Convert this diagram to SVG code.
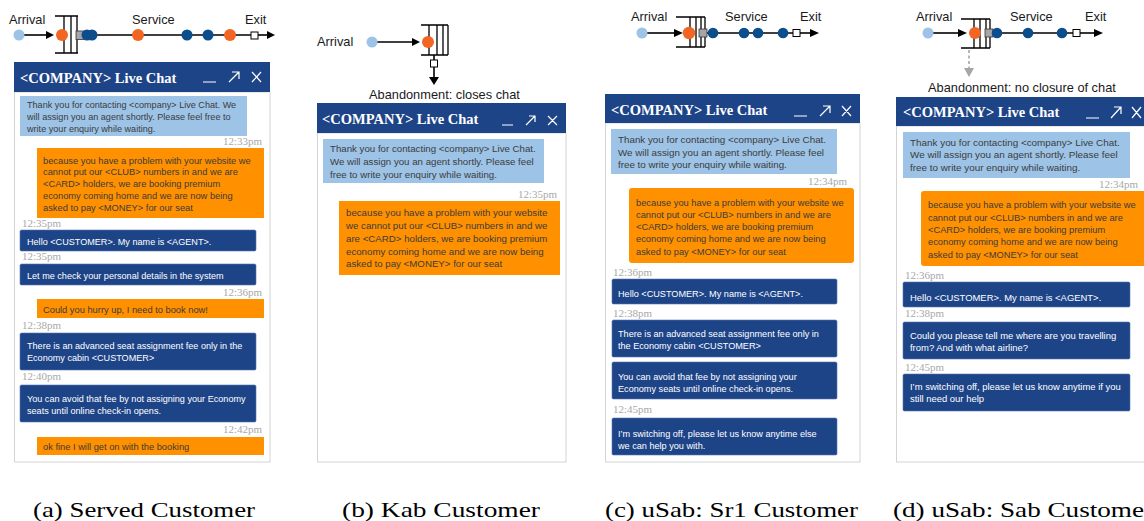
<svg xmlns="http://www.w3.org/2000/svg" width="1144" height="521" viewBox="0 0 1144 521">
<style>
.hdr{fill:#1e4488}
.body{fill:#fff;stroke:#d4d4d4;stroke-width:1}
.lb{fill:#9dc3e6}
.or{fill:#ff9000}
.db{fill:#1e4488;stroke:#5577b0;stroke-width:0.6}
.t{font-family:"Liberation Sans",Arial,sans-serif;fill:#3c3c3c}
.w{fill:#fff}
.ts{font-family:"Liberation Serif","Times New Roman",serif;font-size:11px;fill:#a8a8a8}
.title{font-family:"Liberation Serif","Times New Roman",serif;font-weight:bold;font-size:14.5px;fill:#fff}
.ico{stroke:#fff;stroke-width:1.2;fill:none}
.lbl{font-family:"Liberation Sans",Arial,sans-serif;font-size:12.8px;fill:#1a1a1a}
.cap{font-family:"Liberation Serif","Times New Roman",serif;font-size:22px;fill:#000}
.ln{stroke:#000;stroke-width:1.6;fill:none}
.q{stroke:#000;stroke-width:1.3;fill:none}
.ah{fill:#000}
.od{fill:#f26522}
.dk{fill:#0b4e8b}
.ld{fill:#9dc3e6}
.gs{fill:#a6a6a6;stroke:#333;stroke-width:0.8}
.ws{fill:#fff;stroke:#000;stroke-width:1}
.f91{font-size:9.1px}
.f93{font-size:9.3px}
.f97{font-size:9.7px}
.f98{font-size:9.8px}
.f99{font-size:9.9px}
.f915{font-size:9.15px}
.f945{font-size:9.45px}
</style>

<!-- connectors -->
<g id="connectors">
  <!-- panel a -->
  <line class="ln" x1="24" y1="35" x2="47" y2="35"/>
  <polygon class="ah" points="46,31 54,35 46,39"/>
  <line class="ln" x1="83" y1="35" x2="251" y2="35"/>
  <line class="ln" x1="258" y1="35" x2="268" y2="35"/>
  <polygon class="ah" points="267,31 275,35 267,39"/>
  <!-- panel b -->
  <line class="ln" x1="377" y1="42" x2="413" y2="42"/>
  <polygon class="ah" points="412,38 420,42 412,46"/>
  <line class="ln" x1="434" y1="55" x2="434" y2="60"/>
  <line class="ln" x1="434" y1="67" x2="434" y2="78"/>
  <polygon class="ah" points="429,77 439,77 434,85"/>
  <!-- panel c -->
  <line class="ln" x1="647" y1="33" x2="675" y2="33"/>
  <polygon class="ah" points="674,29 683,33 674,37"/>
  <line class="ln" x1="707" y1="33" x2="793" y2="33"/>
  <line class="ln" x1="800" y1="33" x2="811" y2="33"/>
  <polygon class="ah" points="810,29 819,33 810,37"/>
  <!-- panel d -->
  <line class="ln" x1="933" y1="33" x2="959" y2="33"/>
  <polygon class="ah" points="958,29 967,33 958,37"/>
  <line class="ln" x1="993" y1="33" x2="1073" y2="33"/>
  <line class="ln" x1="1080" y1="33" x2="1095" y2="33"/>
  <polygon class="ah" points="1094,29 1103,33 1094,37"/>
  <line x1="969" y1="50" x2="969" y2="68" stroke="#a6a6a6" stroke-width="1.6" stroke-dasharray="3,2.5"/>
  <polygon fill="#a6a6a6" points="964,68 974,68 969,77"/>
</g>

<!-- panel a flow -->
<g id="flow-a">
  <text class="lbl" x="9" y="24">Arrival</text>
  <text class="lbl" x="132" y="24">Service</text>
  <text class="lbl" x="245" y="24">Exit</text>
  <circle class="ld" cx="19" cy="35" r="5.5"/>
  <path class="q" d="M55,16H78M55,53H78M64,16V53M71,16V53M77,16V53"/>
  <circle class="od" cx="62" cy="35" r="6"/>
  <rect class="gs" x="76" y="31" width="8" height="8.5"/>
  <circle class="dk" cx="87" cy="35" r="5.5"/>
  <circle class="dk" cx="92" cy="35" r="5.5"/>
  <circle class="od" cx="138" cy="35" r="6"/>
  <circle class="dk" cx="187" cy="35" r="5.5"/>
  <circle class="dk" cx="208" cy="35" r="5.5"/>
  <circle class="od" cx="230" cy="35" r="6"/>
  <rect class="ws" x="251" y="32" width="7" height="7"/>
</g>

<!-- panel b flow -->
<g id="flow-b">
  <text class="lbl" x="317" y="46">Arrival</text>
  <circle class="ld" cx="372" cy="42" r="5.5"/>
  <path class="q" d="M421,25H448M421,55H448M429,25V55M437,25V55M443,25V55M448,25V55"/>
  <circle class="od" cx="428" cy="42" r="6"/>
  <rect class="ws" x="430.5" y="60" width="7" height="7"/>
  <text class="lbl" x="369" y="99" font-size="13">Abandonment: closes chat</text>
</g>

<!-- panel c flow -->
<g id="flow-c">
  <text class="lbl" x="631" y="21">Arrival</text>
  <text class="lbl" x="725" y="21">Service</text>
  <text class="lbl" x="800" y="21">Exit</text>
  <circle class="ld" cx="642" cy="33" r="5.5"/>
  <path class="q" d="M676,17H705M676,47H705M690,17V47M696,17V47M701,17V47M705,17V47"/>
  <circle class="od" cx="689" cy="33" r="6.2"/>
  <rect class="gs" x="699" y="29" width="8" height="8"/>
  <circle class="dk" cx="713" cy="33" r="5.3"/>
  <circle class="dk" cx="744" cy="33" r="5.3"/>
  <circle class="dk" cx="758" cy="33" r="5.3"/>
  <circle class="dk" cx="783" cy="33" r="5.3"/>
  <rect class="ws" x="793" y="29.5" width="7" height="7"/>
</g>

<!-- panel d flow -->
<g id="flow-d">
  <text class="lbl" x="916" y="21">Arrival</text>
  <text class="lbl" x="1010" y="21">Service</text>
  <text class="lbl" x="1085" y="21">Exit</text>
  <circle class="ld" cx="928" cy="33" r="5.5"/>
  <path class="q" d="M961,19H990M961,48H990M974,19V48M980,19V48M986,19V48M990,19V48"/>
  <circle class="od" cx="975" cy="33" r="6"/>
  <rect class="gs" x="985" y="29" width="8" height="8"/>
  <circle class="dk" cx="997" cy="33" r="5.3"/>
  <circle class="dk" cx="1028" cy="33" r="5.3"/>
  <circle class="dk" cx="1062" cy="33" r="5.3"/>
  <rect class="ws" x="1073" y="29.5" width="7" height="7"/>
  <text class="lbl" x="928" y="92" font-size="13">Abandonment: no closure of chat</text>
</g>

<!-- chat a -->
<g id="chat-a">
  <rect class="body" x="14.5" y="92" width="255.5" height="370"/>
  <rect class="hdr" x="14" y="62" width="256" height="30"/>
  <text class="title" x="20" y="83">&lt;COMPANY&gt; Live Chat</text>
  <path class="ico" d="M203,82H216M229,82L239,72M232,72H239V79M252,72L261,82M261,72L252,82"/>
  <rect class="lb" x="20" y="96" width="227" height="40"/>
  <text class="t f91" x="27" y="108">Thank you for contacting &lt;company&gt; Live Chat. We</text>
  <text class="t f91" x="27" y="120">will assign you an agent shortly. Please feel free to</text>
  <text class="t f91" x="27" y="132">write your enquiry while waiting.</text>
  <text class="ts" x="262" y="145" text-anchor="end">12:33pm</text>
  <rect class="or" x="37" y="148" width="227" height="70"/>
  <text class="t f93" x="43" y="163.5">because you have a problem with your website we</text>
  <text class="t f93" x="43" y="175">cannot put our &lt;CLUB&gt; numbers in and we are</text>
  <text class="t f93" x="43" y="187">&lt;CARD&gt; holders, we are booking premium</text>
  <text class="t f93" x="43" y="199">economy coming home and we are now being</text>
  <text class="t f93" x="43" y="211">asked to pay &lt;MONEY&gt; for our seat</text>
  <text class="ts" x="22" y="227">12:35pm</text>
  <rect class="db" x="20" y="230" width="236" height="21" rx="1.5"/>
  <text class="t f91 w" x="27" y="245">Hello &lt;CUSTOMER&gt;. My name is &lt;AGENT&gt;.</text>
  <text class="ts" x="22" y="260">12:35pm</text>
  <rect class="db" x="20" y="264" width="236" height="21" rx="1.5"/>
  <text class="t f91 w" x="27" y="279">Let me check your personal details in the system</text>
  <text class="ts" x="262" y="296" text-anchor="end">12:36pm</text>
  <rect class="or" x="37" y="299" width="227" height="19"/>
  <text class="t f93" x="43" y="313">Could you hurry up, I need to book now!</text>
  <text class="ts" x="22" y="329">12:38pm</text>
  <rect class="db" x="20" y="333" width="236" height="37" rx="1.5"/>
  <text class="t f91 w" x="27" y="349">There is an advanced seat assignment fee only in the</text>
  <text class="t f91 w" x="27" y="361">Economy cabin &lt;CUSTOMER&gt;</text>
  <text class="ts" x="22" y="380">12:40pm</text>
  <rect class="db" x="20" y="385" width="236" height="37" rx="1.5"/>
  <text class="t f91 w" x="27" y="402">You can avoid that fee by not assigning your Economy</text>
  <text class="t f91 w" x="27" y="413.5">seats until online check-in opens.</text>
  <text class="ts" x="262" y="433" text-anchor="end">12:42pm</text>
  <rect class="or" x="37" y="437" width="227" height="18"/>
  <text class="t f93" x="43" y="450">ok fine I will get on with the booking</text>
</g>

<!-- chat b -->
<g id="chat-b">
  <rect class="body" x="317.5" y="133" width="248.5" height="329"/>
  <rect class="hdr" x="317" y="103" width="249" height="30"/>
  <text class="title" x="322" y="123.5" font-size="14">&lt;COMPANY&gt; Live Chat</text>
  <path class="ico" d="M502,125H513M526,125L535,116M529,116H535V122M548,116L557,125M557,116L548,125"/>
  <rect class="lb" x="323" y="139" width="221" height="44"/>
  <text class="t f97" x="330" y="151.5">Thank you for contacting &lt;company&gt; Live Chat.</text>
  <text class="t f97" x="330" y="164.5">We will assign you an agent shortly. Please feel</text>
  <text class="t f97" x="330" y="177.5">free to write your enquiry while waiting.</text>
  <text class="ts" x="557" y="197.5" text-anchor="end">12:35pm</text>
  <rect class="or" x="339" y="201" width="221" height="74"/>
  <text class="t f97" x="346" y="215.5">because you have a problem with your website</text>
  <text class="t f97" x="346" y="228.5">we cannot put our &lt;CLUB&gt; numbers in and we</text>
  <text class="t f97" x="346" y="241.5">are &lt;CARD&gt; holders, we are booking premium</text>
  <text class="t f97" x="346" y="254.5">economy coming home and we are now being</text>
  <text class="t f97" x="346" y="266.5">asked to pay &lt;MONEY&gt; for our seat</text>
</g>

<!-- chat c -->
<g id="chat-c">
  <rect class="body" x="605.5" y="123" width="254.5" height="339"/>
  <rect class="hdr" x="605" y="94" width="255" height="29"/>
  <text class="title" x="611" y="114.5">&lt;COMPANY&gt; Live Chat</text>
  <path class="ico" d="M794,116H807M820,116L830,106M823,106H830V113M842,106L851,116M851,106L842,116"/>
  <rect class="lb" x="611" y="129" width="226" height="45"/>
  <text class="t f98" x="618" y="142.5">Thank you for contacting &lt;company&gt; Live Chat.</text>
  <text class="t f98" x="618" y="155.5">We will assign you an agent shortly. Please feel</text>
  <text class="t f98" x="618" y="168">free to write your enquiry while waiting.</text>
  <text class="ts" x="847" y="184.5" text-anchor="end">12:34pm</text>
  <rect class="or" x="629" y="188" width="225" height="75" rx="3"/>
  <text class="t f93" x="636" y="205.5">because you have a problem with your website we</text>
  <text class="t f93" x="636" y="217.5">cannot put our &lt;CLUB&gt; numbers in and we are</text>
  <text class="t f93" x="636" y="229.5">&lt;CARD&gt; holders, we are booking premium</text>
  <text class="t f93" x="636" y="241.5">economy coming home and we are now being</text>
  <text class="t f93" x="636" y="254.5">asked to pay &lt;MONEY&gt; for our seat</text>
  <text class="ts" x="613" y="275.5">12:36pm</text>
  <rect class="db" x="612" y="279" width="225" height="25" rx="1.5"/>
  <text class="t f915 w" x="618" y="296.5">Hello &lt;CUSTOMER&gt;. My name is &lt;AGENT&gt;.</text>
  <text class="ts" x="613" y="316.5">12:38pm</text>
  <rect class="db" x="612" y="320" width="225" height="37" rx="1.5"/>
  <text class="t f915 w" x="618" y="336.5">There is an advanced seat assignment fee only in</text>
  <text class="t f915 w" x="618" y="348.5">the Economy cabin &lt;CUSTOMER&gt;</text>
  <rect class="db" x="612" y="362" width="225" height="37" rx="1.5"/>
  <text class="t f915 w" x="618" y="379.5">You can avoid that fee by not assigning your</text>
  <text class="t f915 w" x="618" y="391.5">Economy seats until online check-in opens.</text>
  <text class="ts" x="613" y="412.5">12:45pm</text>
  <rect class="db" x="612" y="418" width="225" height="37" rx="1.5"/>
  <text class="t f915 w" x="618" y="436.5">I’m switching off, please let us know anytime else</text>
  <text class="t f915 w" x="618" y="448.5">we can help you with.</text>
</g>

<!-- chat d -->
<g id="chat-d">
  <rect class="body" x="896.5" y="126" width="260" height="336"/>
  <rect class="hdr" x="896" y="97" width="260" height="29"/>
  <text class="title" x="903" y="117">&lt;COMPANY&gt; Live Chat</text>
  <path class="ico" d="M1086,118H1099M1111,118L1121,107M1114,107H1121V114M1132,107L1141,118M1141,107L1132,118"/>
  <rect class="lb" x="903" y="132" width="227" height="46"/>
  <text class="t f99" x="910" y="145.5">Thank you for contacting &lt;company&gt; Live Chat.</text>
  <text class="t f99" x="910" y="158">We will assign you an agent shortly. Please feel</text>
  <text class="t f99" x="910" y="170.5">free to write your enquiry while waiting.</text>
  <text class="ts" x="1138" y="188" text-anchor="end">12:34pm</text>
  <rect class="or" x="921" y="191" width="240" height="75" rx="3"/>
  <text class="t f93" x="928" y="208">because you have a problem with your website we</text>
  <text class="t f93" x="928" y="220.5">cannot put our &lt;CLUB&gt; numbers in and we are</text>
  <text class="t f93" x="928" y="232.5">&lt;CARD&gt; holders, we are booking premium</text>
  <text class="t f93" x="928" y="244.5">economy coming home and we are now being</text>
  <text class="t f93" x="928" y="257.5">asked to pay &lt;MONEY&gt; for our seat</text>
  <text class="ts" x="905" y="278.5">12:36pm</text>
  <rect class="db" x="903" y="282" width="227" height="25" rx="1.5"/>
  <text class="t f945 w" x="910" y="300.5">Hello &lt;CUSTOMER&gt;. My name is &lt;AGENT&gt;.</text>
  <text class="ts" x="905" y="316.5">12:38pm</text>
  <rect class="db" x="903" y="322" width="227" height="37" rx="1.5"/>
  <text class="t f945 w" x="910" y="338.5">Could you please tell me where are you travelling</text>
  <text class="t f945 w" x="910" y="350.5">from? And with what airline?</text>
  <text class="ts" x="905" y="370.5">12:45pm</text>
  <rect class="db" x="903" y="374" width="227" height="37" rx="1.5"/>
  <text class="t f945 w" x="910" y="389.5">I’m switching off, please let us know anytime if you</text>
  <text class="t f945 w" x="910" y="402">still need our help</text>
</g>

<!-- captions -->
<g id="captions">
  <text class="cap" x="33" y="517" textLength="222" lengthAdjust="spacingAndGlyphs">(a) Served Customer</text>
  <text class="cap" x="342" y="517" textLength="198" lengthAdjust="spacingAndGlyphs">(b) Kab Customer</text>
  <text class="cap" x="605" y="517" textLength="253" lengthAdjust="spacingAndGlyphs">(c) uSab: Sr1 Customer</text>
  <text class="cap" x="893" y="517" textLength="260" lengthAdjust="spacingAndGlyphs">(d) uSab: Sab Customer</text>
</g>
</svg>
